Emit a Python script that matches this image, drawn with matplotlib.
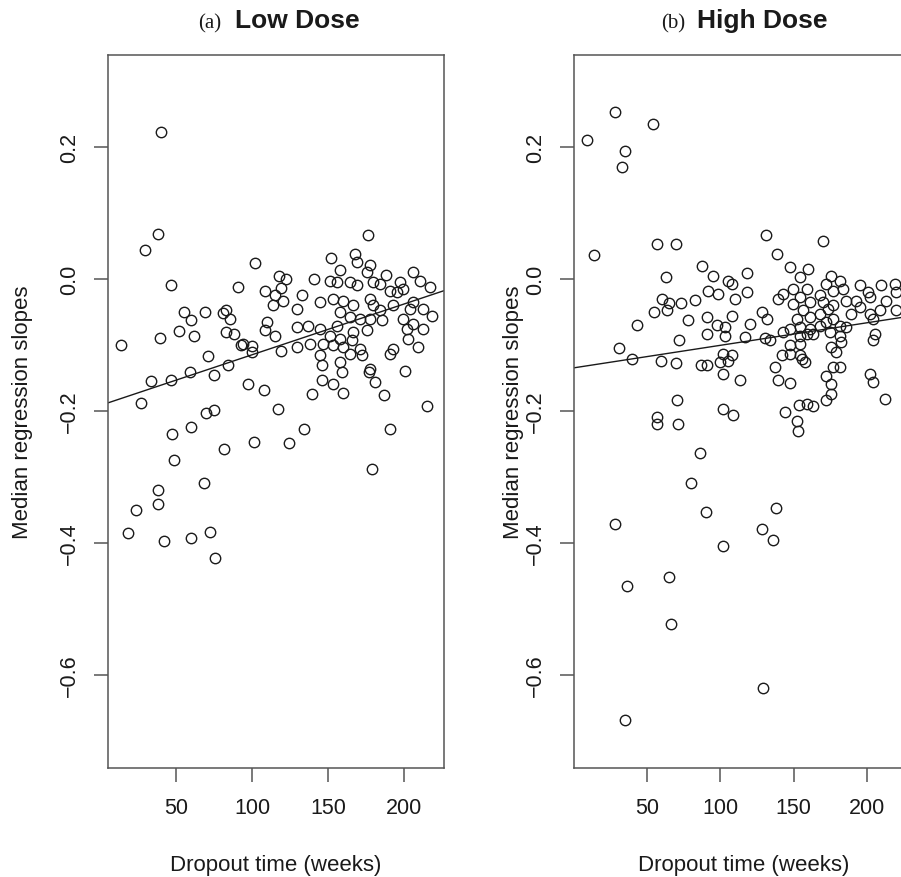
import matplotlib
matplotlib.use("Agg")
import matplotlib.pyplot as plt

plt.rcParams['font.family'] = ['Liberation Sans', 'DejaVu Sans']

# Low dose panel: dropout time (weeks) vs median regression slope
low_time = [
    40.1, 38.2, 176.3, 29.4, 101.8, 46.9, 91.0, 108.8, 117.8, 122.2,
    118.9, 114.9, 120.4, 113.8, 55.3, 68.9, 60.1, 80.9, 83.1, 85.3,
    52.0, 61.8, 39.3, 14.0, 83.1, 88.2, 110.1, 108.8, 115.3, 94.1,
    93.0, 100.2, 100.0, 118.9, 71.1, 84.2, 75.0, 59.0, 46.9, 33.7,
    97.4, 107.9, 27.2,
    152.0, 167.8, 168.9, 177.7, 175.5, 157.9, 188.0, 206.1, 140.8, 151.3,
    155.7, 164.5, 168.9, 179.8, 184.2, 197.4, 199.6, 210.6, 217.1, 190.8,
    195.2, 132.7, 144.8, 153.5, 160.1, 166.7, 177.7, 179.8, 184.2, 206.1,
    204.0, 212.7, 218.3, 193.0, 129.4, 157.9, 164.5, 171.1, 177.7, 185.4,
    199.6, 206.1, 212.7, 129.4, 137.1, 144.8, 155.7, 151.3, 157.9, 166.7,
    175.5, 201.8, 138.2, 129.4, 146.9, 153.5, 160.1, 165.6, 171.1, 193.0,
    190.8, 202.9, 209.4, 144.8, 145.9, 157.9, 164.5, 172.2, 177.7, 177.2,
    180.9, 159.0, 200.7, 145.9, 153.5, 139.5, 160.1, 186.9, 215.0,
    69.5, 75.2, 116.9, 60.1, 47.4, 48.9, 81.8, 101.1, 124.2, 134.0,
    191.0, 179.0, 68.2, 38.0, 38.0, 23.5, 18.2, 42.1, 60.1, 72.4, 75.9,
]
low_slope = [
    0.222, 0.068, 0.067, 0.044, 0.024, -0.010, -0.013, -0.019, 0.004, 0.000,
    -0.014, -0.025, -0.033, -0.040, -0.050, -0.050, -0.063, -0.052, -0.048, -0.061,
    -0.079, -0.087, -0.089, -0.101, -0.081, -0.083, -0.065, -0.077, -0.087, -0.098,
    -0.101, -0.102, -0.111, -0.110, -0.117, -0.130, -0.145, -0.141, -0.154, -0.155,
    -0.160, -0.168, -0.188,
    0.031, 0.037, 0.025, 0.021, 0.010, 0.014, 0.006, 0.010, -0.001, -0.004,
    -0.005, -0.005, -0.010, -0.005, -0.008, -0.005, -0.015, -0.003, -0.013, -0.018,
    -0.020, -0.025, -0.035, -0.030, -0.033, -0.040, -0.030, -0.040, -0.048, -0.035,
    -0.045, -0.045, -0.056, -0.040, -0.045, -0.050, -0.058, -0.061, -0.061, -0.063,
    -0.061, -0.068, -0.076, -0.073, -0.071, -0.076, -0.071, -0.086, -0.091, -0.081,
    -0.078, -0.076, -0.098, -0.103, -0.098, -0.101, -0.103, -0.093, -0.106, -0.106,
    -0.114, -0.091, -0.103, -0.116, -0.131, -0.126, -0.114, -0.116, -0.136, -0.141,
    -0.157, -0.141, -0.139, -0.154, -0.159, -0.174, -0.173, -0.176, -0.192,
    -0.203, -0.198, -0.197, -0.224, -0.235, -0.275, -0.258, -0.247, -0.248, -0.227,
    -0.228, -0.288, -0.310, -0.320, -0.341, -0.350, -0.385, -0.397, -0.392, -0.383, -0.423,
]

# High dose panel
high_time = [
    28.2, 54.1, 9.2, 35.2, 33.4, 130.9,
    14.2, 56.8, 69.9, 63.1, 60.6, 65.2, 64.0, 73.1, 82.8, 55.0,
    43.6, 78.1, 72.0, 31.2, 39.8, 59.9, 70.1, 86.9, 70.8,
    87.4, 95.3, 105.5, 107.8, 118.0, 138.8, 91.9, 98.7, 110.0, 118.0,
    90.8, 107.8, 97.6, 103.2, 120.2, 90.8, 103.2, 116.8, 128.2, 131.6,
    130.4, 133.8, 147.4, 159.9, 154.2, 175.8, 170.1, 142.9, 149.7, 154.2,
    158.8, 139.5, 149.7, 161.0, 167.8, 172.4, 181.4, 183.7, 176.9, 170.1,
    176.9, 186.0, 195.0, 192.8, 200.7, 201.8, 209.8, 218.8, 220.0, 213.2,
    208.6, 220.0, 201.8, 204.1, 195.0, 189.4, 152.0, 156.5, 161.0, 167.8,
    173.5, 172.4, 176.9, 181.4, 186.0, 167.8, 161.0, 154.2, 147.4, 142.9,
    154.2, 158.8, 163.3, 174.6, 181.4, 205.2, 204.1, 182.6, 175.8, 179.2,
    147.4, 154.2, 147.4, 154.2, 155.4, 141.8, 157.6, 137.2, 90.8, 99.8,
    102.1, 107.8, 105.5, 102.1, 113.4, 139.5, 147.4, 176.9, 181.4, 172.4,
    175.8, 201.8, 204.1,
    28.5, 36.8, 35.2, 65.4, 66.3, 56.8, 56.8, 71.5, 86.2, 80.1,
    90.1, 102.1, 102.1, 108.5, 128.2, 136.1, 137.9, 129.3, 144.0, 152.0,
    153.1, 153.8, 158.8, 163.3, 171.9, 175.8, 212.0,
]
high_slope = [
    0.253, 0.235, 0.211, 0.194, 0.169, 0.067,
    0.036, 0.052, 0.052, 0.002, -0.031, -0.036, -0.047, -0.036, -0.032, -0.050,
    -0.070, -0.062, -0.092, -0.105, -0.121, -0.124, -0.127, -0.130, -0.184,
    0.020, 0.004, -0.003, -0.008, 0.009, 0.037, -0.019, -0.023, -0.030, -0.020,
    -0.058, -0.057, -0.070, -0.073, -0.068, -0.083, -0.086, -0.088, -0.050, -0.061,
    -0.090, -0.092, 0.018, 0.015, 0.003, 0.005, 0.058, -0.023, -0.015, -0.028,
    -0.015, -0.030, -0.038, -0.035, -0.025, -0.008, -0.003, -0.015, -0.018, -0.035,
    -0.040, -0.033, -0.010, -0.033, -0.020, -0.028, -0.010, -0.008, -0.020, -0.033,
    -0.048, -0.048, -0.053, -0.061, -0.043, -0.053, -0.061, -0.048, -0.058, -0.053,
    -0.045, -0.066, -0.061, -0.071, -0.073, -0.071, -0.076, -0.073, -0.076, -0.081,
    -0.086, -0.083, -0.083, -0.081, -0.086, -0.083, -0.093, -0.096, -0.103, -0.111,
    -0.101, -0.098, -0.114, -0.116, -0.121, -0.116, -0.126, -0.134, -0.130, -0.126,
    -0.114, -0.116, -0.125, -0.144, -0.154, -0.154, -0.158, -0.134, -0.134, -0.147,
    -0.159, -0.144, -0.157,
    -0.372, -0.466, -0.668, -0.452, -0.523, -0.210, -0.220, -0.220, -0.264, -0.310,
    -0.353, -0.405, -0.197, -0.206, -0.379, -0.395, -0.347, -0.620, -0.201, -0.216,
    -0.231, -0.191, -0.189, -0.193, -0.183, -0.174, -0.182,
]

# fitted lines (intercept, slope)
low_fit = (-0.192, 0.000769)
high_fit = (-0.135, 0.000342)

x_ticks = [50, 100, 150, 200]
y_ticks = [-0.6, -0.4, -0.2, 0.0, 0.2]

W, H = 901, 878
fig = plt.figure(figsize=(W / 100, H / 100), dpi=100)

SPINE = '#555555'
INK = '#1a1a1a'


def draw_panel(ax, times, slopes, fit, xlim, ylab_x):
    ax.plot(times, slopes, linestyle='none', marker='o', markersize=7.5,
            markerfacecolor='none', markeredgecolor=INK, markeredgewidth=1.0)
    ax.axline((0, fit[0]), slope=fit[1], color=INK, linewidth=1.0)
    ax.set_xlim(*xlim)
    ax.set_ylim(-0.741, 0.339)
    ax.set_xticks(x_ticks)
    ax.set_yticks(y_ticks)
    ax.tick_params(direction='out', length=10, width=1.1, color=SPINE,
                   labelsize=15.5, labelcolor=INK)
    ax.tick_params(axis='x', pad=11)
    ax.tick_params(axis='y', pad=10)
    plt.setp(ax.get_yticklabels(), rotation=90, va='center')
    for sp in ax.spines.values():
        sp.set_color(SPINE)
        sp.set_linewidth(1.1)
    ax.set_xlabel("Dropout time (weeks)", fontsize=16, color=INK)
    ax.set_ylabel("Median regression slopes", fontsize=16, color=INK)
    ax.xaxis.set_label_coords(0.5, -0.136)
    ax.xaxis.label.set_va('center')
    ax.yaxis.set_label_coords(ylab_x, 0.5)
    ax.yaxis.label.set_va('center')


ax_low = fig.add_axes([108 / W, 1 - 769 / H, 336 / W, 713 / H])
draw_panel(ax_low, low_time, low_slope, low_fit, (5.3, 226.3), -0.255)

# right panel runs past the image edge, as in the original
ax_high = fig.add_axes([574 / W, 1 - 769 / H, 339 / W, 713 / H])
draw_panel(ax_high, high_time, high_slope, high_fit, (0.5, 231.3), -0.178)

# panel titles: serif tag + bold sans name
title_y = 1 - 28 / H
fig.text(221 / W, title_y, "(a)", family=['Liberation Serif'], fontsize=15,
         ha='right', va='baseline', color=INK)
fig.text(235 / W, title_y, "Low Dose", fontsize=19, fontweight='bold',
         ha='left', va='baseline', color=INK)
fig.text(685 / W, title_y, "(b)", family=['Liberation Serif'], fontsize=15,
         ha='right', va='baseline', color=INK)
fig.text(697 / W, title_y, "High Dose", fontsize=19, fontweight='bold',
         ha='left', va='baseline', color=INK)

fig.savefig("out.png", dpi=100)
